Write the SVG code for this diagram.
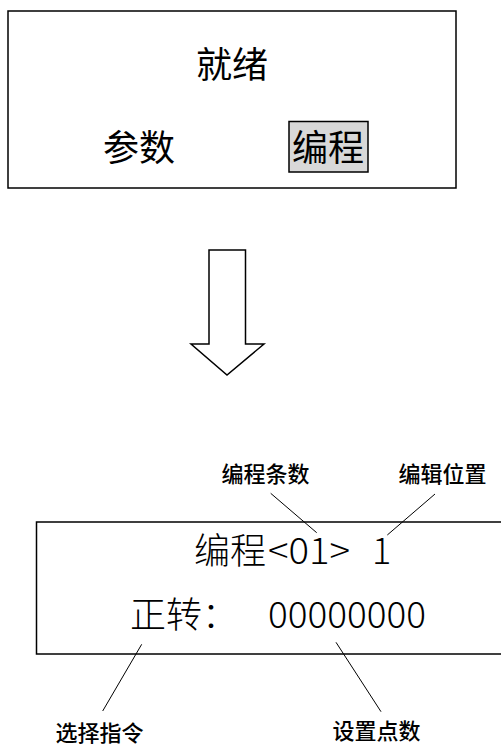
<svg xmlns="http://www.w3.org/2000/svg" width="501" height="749" viewBox="0 0 501 749">
<style>
.box{fill:#fff;stroke:#000;stroke-width:1.5}
.big{font-family:"Noto Sans CJK SC","Liberation Sans",sans-serif;font-size:36px;fill:#000;text-anchor:middle}
.lcd{font-family:"Noto Sans CJK SC","Liberation Sans",sans-serif;font-size:36px;fill:#000;font-weight:300}
.lbl{font-family:"Noto Sans CJK SC",sans-serif;font-size:22px;fill:#000;text-anchor:middle;font-weight:500}
.lead{stroke:#000;stroke-width:1;fill:none}
</style>
<g id="ready-screen">
<rect class="box" x="8" y="11" width="448" height="177"/>
<text class="big" x="232" y="78">就绪</text>
<text class="big" x="139" y="161">参数</text>
<rect x="289" y="121.5" width="79" height="50.5" fill="#d8d8d8" stroke="#000" stroke-width="1.5"/>
<text class="big" x="328" y="161">编程</text>
</g>
<g id="arrow">
<polygon points="209,250 245.5,250 245.5,344 264,344 227,375 191,344 209,344" fill="#fff" stroke="#000" stroke-width="1.5"/>
</g>
<g id="program-screen">
<rect class="box" x="36.5" y="522" width="480" height="132"/>
<text class="lcd" x="194" y="564">编程</text>
<text class="lcd" x="268" y="564" textLength="82" lengthAdjust="spacingAndGlyphs">&lt;01&gt;</text>
<text class="lcd" x="372" y="564">1</text>
<text class="lcd" x="130" y="628">正转：</text>
<text class="lcd" x="268" y="628" textLength="158" lengthAdjust="spacingAndGlyphs">00000000</text>
</g>
<g id="labels">
<text class="lbl" x="265.5" y="482">编程条数</text>
<text class="lbl" x="442.5" y="482">编辑位置</text>
<text class="lbl" x="99.5" y="741">选择指令</text>
<text class="lbl" x="376.5" y="739">设置点数</text>
</g>
<g id="connectors">
<line class="lead" x1="270.7" y1="493.3" x2="316.7" y2="532.7"/>
<line class="lead" x1="435" y1="494" x2="387.3" y2="535"/>
<line class="lead" x1="141.7" y1="644.3" x2="102.7" y2="711"/>
<line class="lead" x1="336" y1="642.3" x2="381" y2="711.7"/>
</g>
</svg>
